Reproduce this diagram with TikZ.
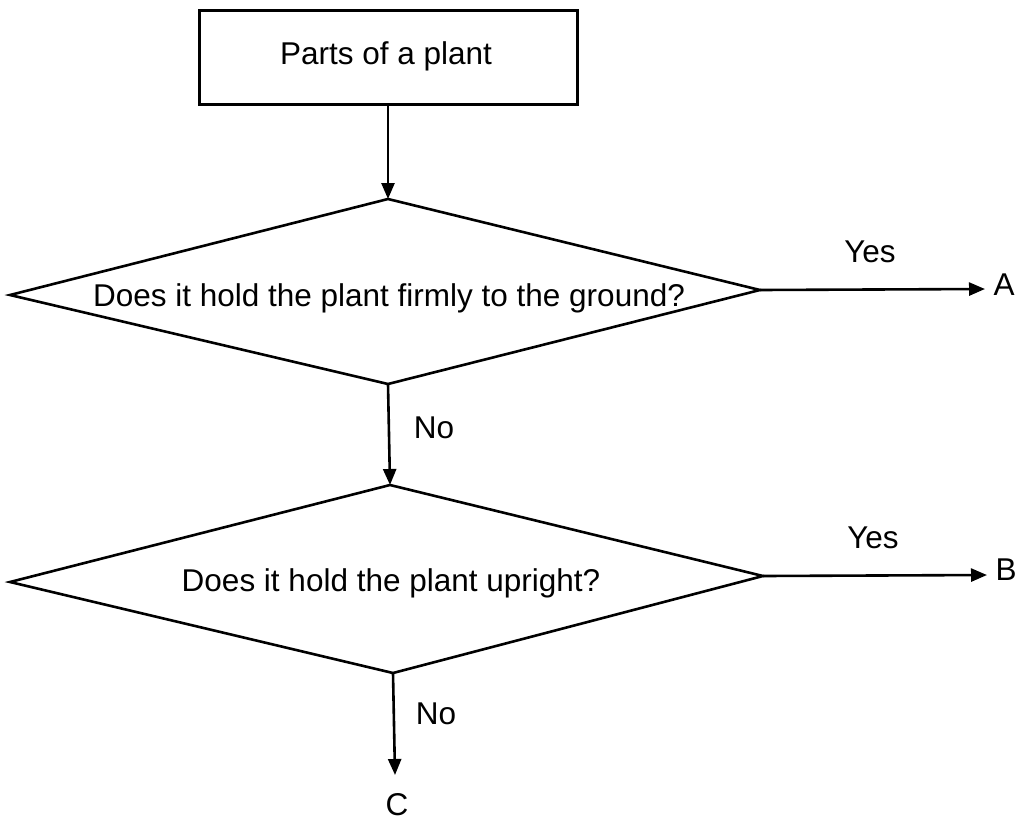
\documentclass[tikz,border=0pt]{standalone}
\usepackage{fontspec}
\setmainfont{Liberation Sans}
\usetikzlibrary{arrows.meta}
\begin{document}
\begin{tikzpicture}[x=1pt,y=-1pt,
  line/.style={line width=2.6pt,line join=miter},
  flow/.style={line width=2.6pt,-{Triangle[length=16pt,width=13pt]}},
  txt/.style={font=\fontsize{31.5}{36}\selectfont,inner sep=0pt},
  lbl/.style={font=\fontsize{31.5}{36}\selectfont,inner sep=0pt}]
\useasboundingbox (0,0) rectangle (1022,822);

% title box
\node[draw,line width=2.6pt,minimum width=378pt,minimum height=94pt,anchor=north west,
      inner sep=0pt] (box) at (198,9) {};
\node[txt] (title) at (386,56) {Parts of a plant};

% first decision diamond
\coordinate (d1t) at (388,199);
\coordinate (d1r) at (760,290);
\coordinate (d1b) at (388,384);
\coordinate (d1l) at (10,295);
\draw[line] (d1t) -- (d1r) -- (d1b) -- (d1l) -- cycle;
\node[txt] (q1) at (389,298) {Does it hold the plant firmly to the ground?};

% second decision diamond
\coordinate (d2t) at (390,485);
\coordinate (d2r) at (763,576);
\coordinate (d2b) at (393,673);
\coordinate (d2l) at (10,582);
\draw[line] (d2t) -- (d2r) -- (d2b) -- (d2l) -- cycle;
\node[txt] (q2) at (391,583) {Does it hold the plant upright?};

% outcomes
\node[lbl] (A) at (1004,285) {A};
\node[lbl] (B) at (1006,570) {B};
\node[lbl] (C) at (397,805) {C};
\coordinate (aend) at (985,289);
\coordinate (bend) at (987,575);
\coordinate (cend) at (395,775);

% connectors
\draw[flow] (box.south -| d1t) -- (d1t);
\draw[flow] (d1r) -- (aend);
\draw[flow] (d1b) -- (d2t);
\draw[flow] (d2r) -- (bend);
\draw[flow] (d2b) -- (cend);

% branch labels
\node[lbl] (y1) at (870,252) {Yes};
\node[lbl] (n1) at (434,428) {No};
\node[lbl] (y2) at (873,538) {Yes};
\node[lbl] (n2) at (436,714) {No};
\end{tikzpicture}
\end{document}
